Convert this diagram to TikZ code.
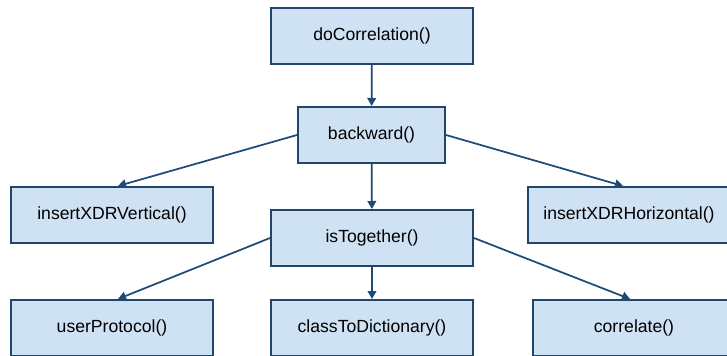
\documentclass[tikz,border=0pt]{standalone}
\usepackage{fontspec}
\setmainfont{Liberation Sans}
\usetikzlibrary{arrows.meta}
\definecolor{boxfill}{HTML}{CFE2F3}
\definecolor{boxline}{HTML}{24456A}
\definecolor{edgeline}{HTML}{1F4A75}
\tikzset{
  fnbox/.style={draw=boxline, fill=boxfill, line width=1.5pt, rectangle,
    minimum width=151.5pt, minimum height=42pt, inner sep=0pt,
    font=\fontsize{13.2pt}{15pt}\selectfont},
  call/.style={draw=edgeline, line width=1.3pt,
    -{Triangle[length=6pt,width=6.5pt]}}
}
\begin{document}
\begin{tikzpicture}[x=0.75pt, y=-0.75pt]
  \useasboundingbox (0,0) rectangle (727,356);
  \clip (0,0) rectangle (727,356);

  \node[fnbox] (dc) at (372,36) {doCorrelation()};
  \node[fnbox, minimum width=110.25pt] (bw) at (371.5,135) {backward()};
  \node[fnbox] (iv) at (112,215) {insertXDRVertical()};
  \node[fnbox] (it) at (372,238) {isTogether()};
  \node[fnbox] (ih) at (629,215) {insertXDRHorizontal()};
  \node[fnbox] (up) at (112,328) {userProtocol()};
  \node[fnbox] (cd) at (372,328) {classToDictionary()};
  \node[fnbox] (co) at (634,328) {correlate()};

  \draw[call] (dc) -- (bw);
  \draw[call] (bw) -- (it);
  \draw[call] (bw.west) -- ([xshift=4.5pt]iv.north);
  \draw[call] (bw.east) -- ([xshift=-4.5pt]ih.north);
  \draw[call] (it.west) -- ([xshift=4.5pt]up.north);
  \draw[call] (it) -- (cd);
  \draw[call] (it.east) -- ([xshift=-3pt]co.north);
\end{tikzpicture}
\end{document}
